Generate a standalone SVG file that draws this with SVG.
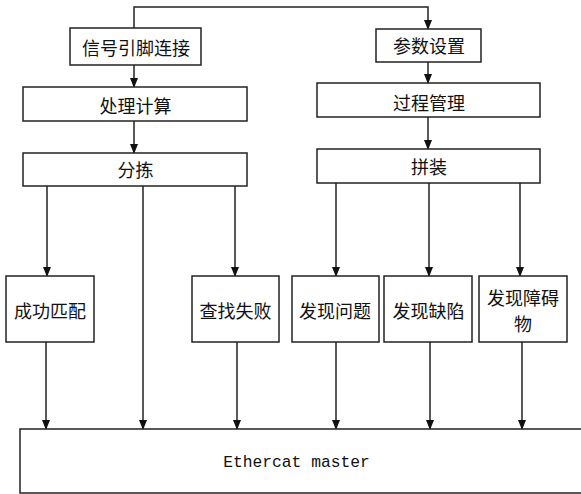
<svg xmlns="http://www.w3.org/2000/svg" width="581" height="494" viewBox="0 0 581 494">
<style>
.box{fill:#fff;stroke:#222;stroke-width:1.5}
.t{font-family:"Noto Sans CJK SC","Noto Sans CJK JP",sans-serif;font-size:18px;fill:#111;text-anchor:middle;dominant-baseline:central}
.m{font-family:"Liberation Mono",monospace;font-size:16.3px;fill:#111;text-anchor:middle;dominant-baseline:central}
.c{fill:none;stroke:#222;stroke-width:1.5}
</style>
<defs>
<marker id="ah" markerWidth="10" markerHeight="10" refX="9" refY="4" orient="auto" markerUnits="userSpaceOnUse">
<path d="M0,0 L10,4 L0,8 Z" fill="#111"/>
</marker>
</defs>
<g id="connectors">
<path class="c" d="M134,28 L134,7 L428,7 L428,29" marker-end="url(#ah)"/>
<path class="c" d="M134,65 L134,87" marker-end="url(#ah)"/>
<path class="c" d="M134,121 L134,153" marker-end="url(#ah)"/>
<path class="c" d="M428,62 L428,83" marker-end="url(#ah)"/>
<path class="c" d="M428,117 L428,149" marker-end="url(#ah)"/>
<path class="c" d="M47,186 L47,276" marker-end="url(#ah)"/>
<path class="c" d="M143,186 L143,429" marker-end="url(#ah)"/>
<path class="c" d="M235,186 L235,276" marker-end="url(#ah)"/>
<path class="c" d="M336,183 L336,276" marker-end="url(#ah)"/>
<path class="c" d="M429,183 L429,276" marker-end="url(#ah)"/>
<path class="c" d="M520,183 L520,276" marker-end="url(#ah)"/>
<path class="c" d="M46,342 L46,429" marker-end="url(#ah)"/>
<path class="c" d="M237,342 L237,429" marker-end="url(#ah)"/>
<path class="c" d="M336,342 L336,429" marker-end="url(#ah)"/>
<path class="c" d="M430,342 L430,429" marker-end="url(#ah)"/>
<path class="c" d="M522,342 L522,429" marker-end="url(#ah)"/>
</g>
<g id="n1"><rect class="box" x="70" y="28" width="131" height="37"/><text class="t" x="136" y="46.5">信号引脚连接</text></g>
<g id="n2"><rect class="box" x="23" y="87" width="224" height="34"/><text class="t" x="135.5" y="104.5">处理计算</text></g>
<g id="n3"><rect class="box" x="23" y="153" width="224" height="33"/><text class="t" x="135.5" y="169">分拣</text></g>
<g id="n4"><rect class="box" x="376" y="29" width="105" height="33"/><text class="t" x="429" y="45">参数设置</text></g>
<g id="n5"><rect class="box" x="317" y="83" width="223" height="34"/><text class="t" x="429" y="101.5">过程管理</text></g>
<g id="n6"><rect class="box" x="317" y="149" width="223" height="34"/><text class="t" x="429" y="165.5">拼装</text></g>
<g id="n7"><rect class="box" x="6" y="276" width="88" height="66"/><text class="t" x="50" y="309.5">成功匹配</text></g>
<g id="n8"><rect class="box" x="192" y="276" width="87" height="66"/><text class="t" x="235.5" y="309.5">查找失败</text></g>
<g id="n9"><rect class="box" x="292" y="276" width="87" height="66"/><text class="t" x="335" y="309.5">发现问题</text></g>
<g id="n10"><rect class="box" x="384" y="276" width="88" height="66"/><text class="t" x="428.5" y="309.5">发现缺陷</text></g>
<g id="n11"><rect class="box" x="479" y="276" width="88" height="66"/><text class="t" x="523" y="296.5">发现障碍</text><text class="t" x="523" y="322.5">物</text></g>
<g id="n12"><rect class="box" x="20" y="429" width="570" height="64"/><text class="m" x="296.5" y="462">Ethercat master</text></g>
</svg>
